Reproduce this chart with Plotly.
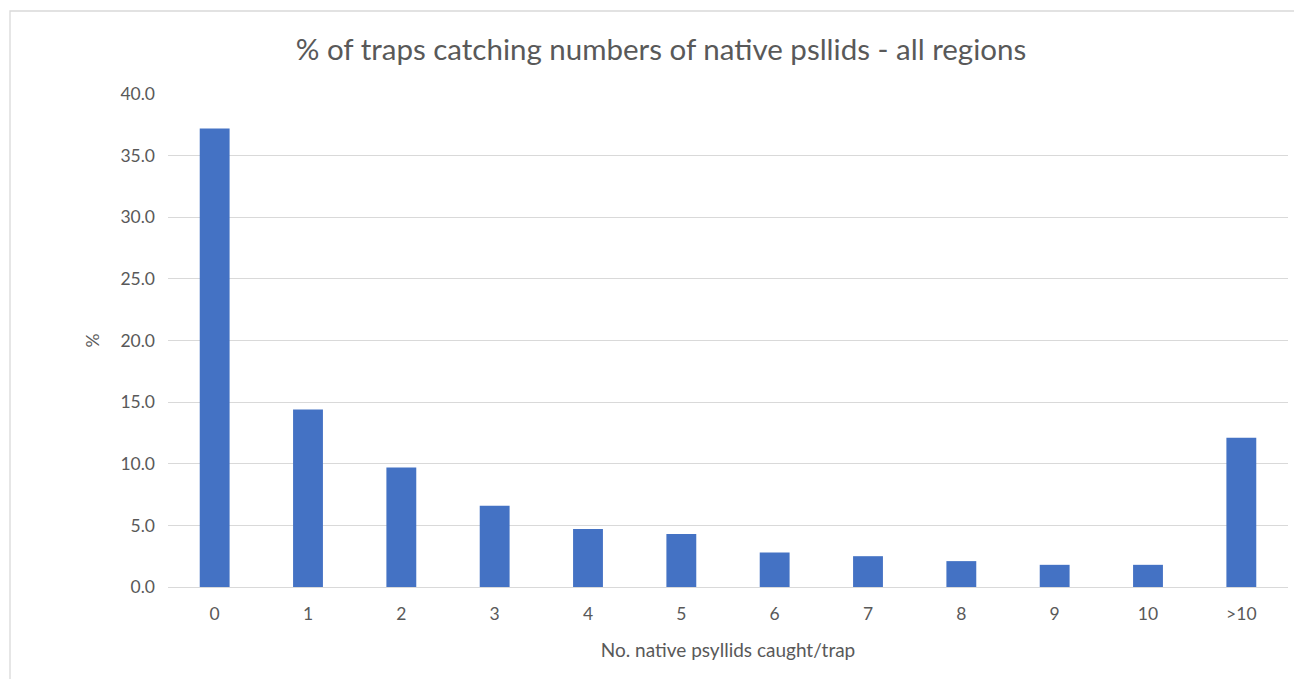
import plotly.graph_objects as go

categories = ["0", "1", "2", "3", "4", "5", "6", "7", "8", "9", "10", ">10"]
percent = [37.2, 14.4, 9.7, 6.6, 4.7, 4.3, 2.8, 2.5, 2.1, 1.8, 1.8, 12.1]
y_ticks = [0, 5, 10, 15, 20, 25, 30, 35, 40]

# page has an 8px body margin; figure coordinates = page coordinates - 8
W, H = 1294, 671
L, R, T, B = 160, 14, 86, 92
pw = W - L - R
ph = H - T - B

def px_x(x):
    return (x - L) / pw

def px_y(y):
    return (H - B - y) / ph

fig = go.Figure(go.Bar(
    x=categories, y=percent,
    marker=dict(color="#4472C4", line=dict(width=0)),
))

fig.update_layout(
    width=W, height=H,
    margin=dict(l=L, r=R, t=T, b=B),
    paper_bgcolor="white", plot_bgcolor="white",
    bargap=0.68,
    showlegend=False,
    font=dict(family="Lato, Open Sans, sans-serif", color="#595959", size=17),
    title=dict(text="% of traps catching numbers of native psllids - all regions",
               x=653 / W, xanchor="center", xref="container", y=1 - 42 / H, yanchor="middle",
               font=dict(size=29.5, color="#595959")),
    xaxis=dict(type="category", showgrid=False, showline=False, ticks="",
               ticklabelstandoff=14,
               tickfont=dict(size=17.5, color="#595959"),
               title=dict(text="No. native psyllids caught/trap", standoff=21,
                          font=dict(size=19, color="#595959"))),
    yaxis=dict(range=[0, 40], tickvals=y_ticks,
               ticktext=[f"{v:.1f}" for v in y_ticks],
               showgrid=True, gridcolor="#d9d9d9", gridwidth=1.3,
               zeroline=True, zerolinecolor="#d9d9d9", zerolinewidth=1.3,
               showline=False, ticks="", ticklen=0,
               ticklabelstandoff=12,
               tickfont=dict(size=17.5, color="#595959"),
               title=dict(text="%", standoff=16, font=dict(size=17.5, color="#595959"))),
    shapes=[dict(type="rect", xref="paper", yref="paper",
                 x0=px_x(2), x1=px_x(1310), y0=px_y(700), y1=px_y(3),
                 line=dict(color="#d9d9d9", width=1.3), fillcolor="rgba(0,0,0,0)",
                 layer="below")],
)

fig.write_html("out.html")
